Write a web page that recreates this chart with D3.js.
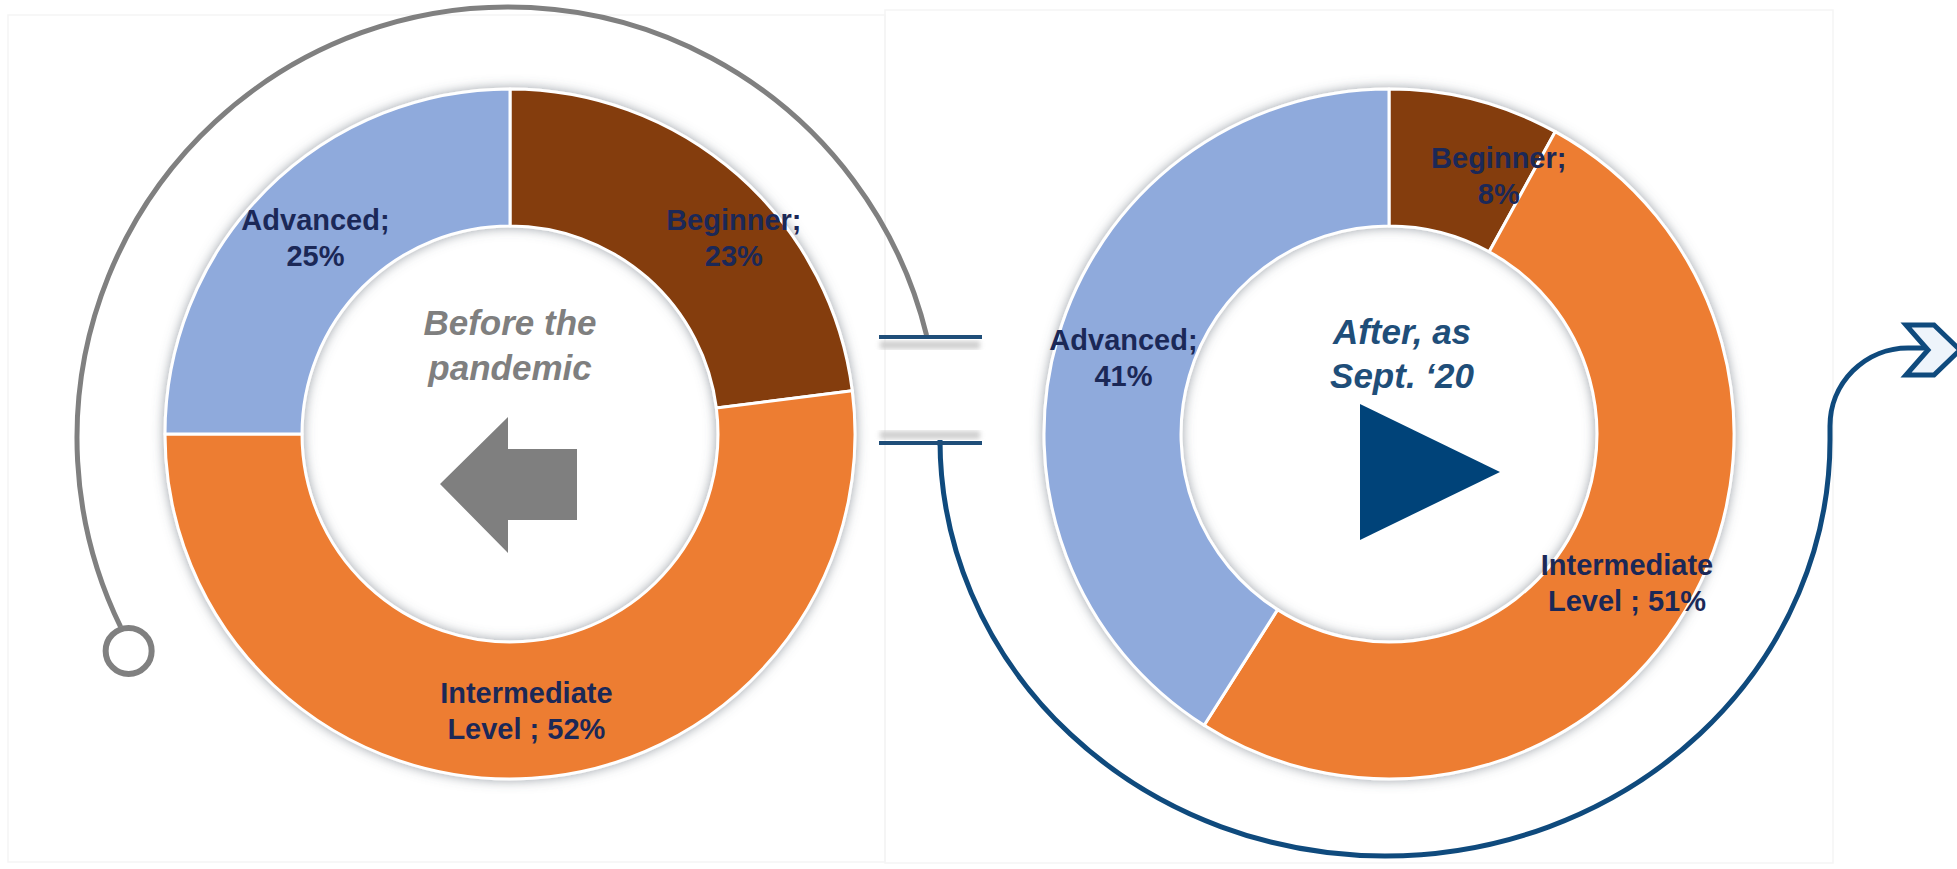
<!DOCTYPE html>
<html>
<head>
<meta charset="utf-8">
<script src="https://cdn.jsdelivr.net/npm/d3@7"></script>
<style>
  body { margin: 0; background: #fff; }
  svg { display: block; }
</style>
</head>
<body>
<div id="chart"></div>
<script>
var width = 1957,
    height = 869;

// data
var levels = ["Beginner", "Intermediate Level", "Advanced"];
var beforeVals = [23, 52, 25];
var afterVals = [8, 51, 41];
var labelHead = ["Beginner;", "Intermediate", "Advanced;"];
var labelTail = ["", "Level ; ", ""];
var periodLines = [["Before the", "pandemic"], ["After, as", "Sept. \u201820"]];

var colors = ["#843c0c", "#ed7d31", "#8faadc"];
var navy = "#0f4a7d";
var labelColor = "#1b2857";

// layout
var rOuter = 345, rInner = 208;
var donuts = [
  { vals: beforeVals, cx: 510, cy: 434, title: periodLines[0], titleColor: "#7f7f7f", titleDx: 0, titleY: [335, 380],
    nudge: [[41, 11], [-1, 1], [1, -1]] },
  { vals: afterVals, cx: 1389, cy: 434, title: periodLines[1], titleColor: "#1f4e79", titleDx: 13, titleY: [344, 388],
    nudge: [[41, 10], [0, 8], [0, 1]] }
];

var svg = d3.select("#chart").append("svg")
    .attr("width", width)
    .attr("height", height);

var defs = svg.append("defs");
var glow = defs.append("filter").attr("id", "glow")
    .attr("x", "-10%").attr("y", "-10%").attr("width", "120%").attr("height", "120%");
glow.append("feGaussianBlur").attr("in", "SourceAlpha").attr("stdDeviation", 6).attr("result", "b");
glow.append("feFlood").attr("flood-color", "#5a6470").attr("flood-opacity", 0.6);
glow.append("feComposite").attr("in2", "b").attr("operator", "in").attr("result", "s");
var gm = glow.append("feMerge");
gm.append("feMergeNode").attr("in", "s");
gm.append("feMergeNode").attr("in", "SourceGraphic");

var soft = defs.append("filter").attr("id", "soft");
soft.append("feGaussianBlur").attr("stdDeviation", 2.5);

// faint slide panels
svg.append("rect").attr("x", 8).attr("y", 15).attr("width", 877).attr("height", 847)
    .attr("fill", "none").attr("stroke", "#f5f5f5").attr("stroke-width", 1.5);
svg.append("rect").attr("x", 885).attr("y", 10).attr("width", 948).attr("height", 853)
    .attr("fill", "none").attr("stroke", "#f5f5f5").attr("stroke-width", 1.5);

// grey connector round the first donut
var gArc = d3.path();
var gcx = 508, gcy = 438, gr = 431;
var a0 = Math.atan2(335 - gcy, 928 - gcx);
var aEnd = -206 * Math.PI / 180;
gArc.arc(gcx, gcy, gr, a0, aEnd, true);
svg.append("path").attr("d", gArc.toString())
    .attr("fill", "none").attr("stroke", "#808080").attr("stroke-width", 5);
var aC = -209.3 * Math.PI / 180;
svg.append("circle")
    .attr("cx", gcx + (gr + 4) * Math.cos(aC))
    .attr("cy", gcy + (gr + 4) * Math.sin(aC))
    .attr("r", 23)
    .attr("fill", "#fff").attr("stroke", "#808080").attr("stroke-width", 6);

// blue connector round the second donut into the chevron
var bcx = 1385, bcy = 440, brx = 445, bry = 416;
var bluePath = "M" + (bcx - brx) + "," + 446 +
    " L" + (bcx - brx) + "," + bcy +
    " A" + brx + "," + bry + " 0 0 0 " + (bcx + brx) + "," + bcy +
    " L" + (bcx + brx) + "," + 426 +
    " A78,78 0 0 1 " + (bcx + brx + 78) + "," + 348 +
    " L1928,348";
svg.append("path").attr("d", bluePath)
    .attr("fill", "none").attr("stroke", navy).attr("stroke-width", 5);
svg.append("path")
    .attr("d", "M1906,325 L1934,325 L1960,350 L1934,375 L1906,375 L1928,350 Z")
    .attr("fill", "#eef4fb").attr("stroke", navy).attr("stroke-width", 5)
    .attr("stroke-linejoin", "miter");

// break mark between the panels
[[337, 8], [443, -8]].forEach(function (b) {
  svg.append("rect").attr("x", 880).attr("y", b[0] + b[1] - 4).attr("width", 100).attr("height", 8)
      .attr("fill", "#cfcfcf").attr("filter", "url(#soft)");
  svg.append("line").attr("x1", 879).attr("x2", 982).attr("y1", b[0]).attr("y2", b[0])
      .attr("stroke", "#1f4e79").attr("stroke-width", 4);
});

var pie = d3.pie().sort(null).value(function (d) { return d; });
var arc = d3.arc().innerRadius(rInner).outerRadius(rOuter);

donuts.forEach(function (dn) {
  var g = svg.append("g").attr("transform", "translate(" + dn.cx + "," + dn.cy + ")");
  var arcs = pie(dn.vals);

  g.append("g").attr("filter", "url(#glow)")
    .selectAll("path")
    .data(arcs)
    .enter().append("path")
    .attr("d", arc)
    .attr("fill", function (d, i) { return colors[i]; })
    .attr("stroke", "#fff")
    .attr("stroke-width", 3)
    .attr("stroke-linejoin", "round");

  var lab = g.selectAll("text.lab")
    .data(arcs)
    .enter().append("text")
    .attr("class", "lab")
    .attr("text-anchor", "middle")
    .attr("font-family", "'Liberation Sans', Arial, sans-serif")
    .attr("font-weight", "bold")
    .attr("font-size", 29)
    .attr("fill", labelColor);
  lab.each(function (d, i) {
    var c = arc.centroid(d);
    var x = c[0] + dn.nudge[i][0], y = c[1] + dn.nudge[i][1];
    var t = d3.select(this);
    t.append("tspan").attr("x", x).attr("y", y - 8).text(labelHead[i]);
    t.append("tspan").attr("x", x).attr("y", y + 28).text(labelTail[i] + d.data + "%");
  });

  var title = g.append("text")
    .attr("text-anchor", "middle")
    .attr("font-family", "'Liberation Sans', Arial, sans-serif")
    .attr("font-weight", "bold")
    .attr("font-style", "italic")
    .attr("font-size", 35)
    .attr("fill", dn.titleColor);
  dn.title.forEach(function (line, i) {
    title.append("tspan").attr("x", dn.titleDx).attr("y", dn.titleY[i] - dn.cy).text(line);
  });
});

// centre symbols
svg.append("path")
    .attr("transform", "translate(510,434)")
    .attr("d", "M-70,50 L-2,-17 L-2,15 L67,15 L67,86 L-2,86 L-2,119 Z")
    .attr("fill", "#7f7f7f");
svg.append("path")
    .attr("transform", "translate(1389,434)")
    .attr("d", "M-29,-30 L-29,106 L111,38 Z")
    .attr("fill", "#004379");
</script>
</body>
</html>
